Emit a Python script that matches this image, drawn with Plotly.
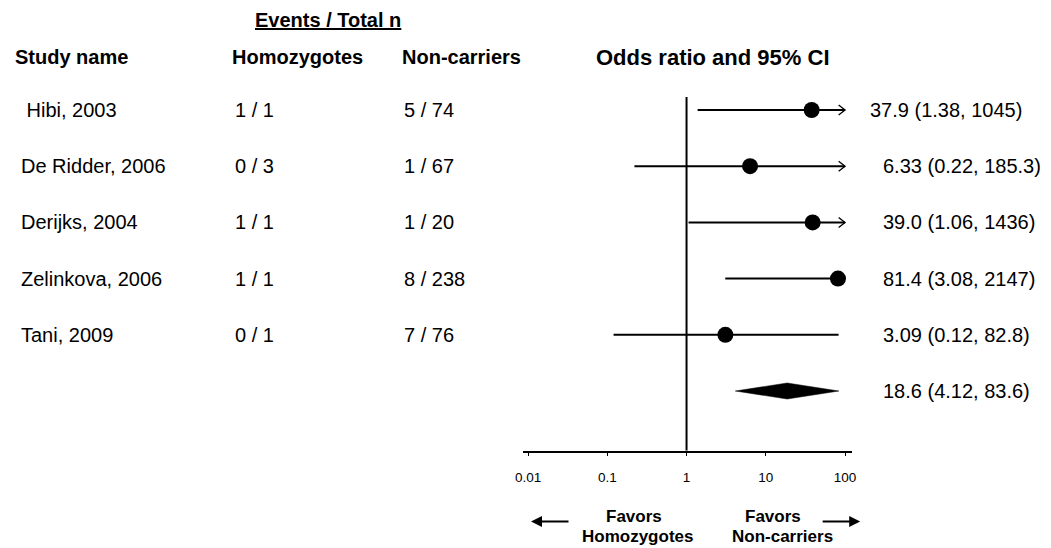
import math
import plotly.graph_objects as go

# ---------------- data ----------------
studies = ["\u00a0Hibi, 2003", "De Ridder, 2006", "Derijks, 2004", "Zelinkova, 2006", "Tani, 2009"]
homo_events = ["1 / 1", "0 / 3", "1 / 1", "1 / 1", "0 / 1"]
noncarrier_events = ["5 / 74", "1 / 67", "1 / 20", "8 / 238", "7 / 76"]
odds_ratio = [37.9, 6.33, 39.0, 81.4, 3.09]
ci_lower = [1.38, 0.22, 1.06, 3.08, 0.12]
ci_upper = [1045, 185.3, 1436, 2147, 82.8]
pooled_or = 18.6
pooled_lower = 4.12
pooled_upper = 83.6
tick_values = [0.01, 0.1, 1, 10, 100]
tick_labels = ["0.01", "0.1", "1", "10", "100"]
clip_min, clip_max = 0.01, 100

# ---------------- layout constants (page pixels) ----------------
PAGE_W, PAGE_H = 1051, 548
OFF = 8                      # default body margin of the html page
W, H = PAGE_W - OFF, PAGE_H - OFF
FONT = "Liberation Sans, Arial, sans-serif"
AX_LEFT, AX_RIGHT, AX_Y = 520.7, 854.0, 450.7
LOG_RANGE = [-2.066, 2.091]
PPD = (AX_RIGHT - AX_LEFT) / (LOG_RANGE[1] - LOG_RANGE[0])  # pixels per decade
ROW0, ROW_STEP = 110.0, 56.2
STAT_X = [870, 883, 883, 883, 883, 883]

rows_y = [ROW0 + i * ROW_STEP for i in range(len(studies))]
pooled_y = ROW0 + len(studies) * ROW_STEP

fig = go.Figure()

# reference line at OR = 1
fig.add_trace(go.Scatter(x=[1, 1], y=[rows_y[0] - 13, AX_Y], mode="lines",
                         line=dict(color="black", width=2), hoverinfo="skip"))

# confidence intervals
for y, lo, hi in zip(rows_y, ci_lower, ci_upper):
    lo_c = max(lo, clip_min)
    hi_c = min(hi, clip_max)
    fig.add_trace(go.Scatter(x=[lo_c, hi_c], y=[y, y], mode="lines",
                             line=dict(color="black", width=2), hoverinfo="skip"))
    if hi > clip_max:
        back = 10 ** (math.log10(clip_max) - 6.5 / PPD)
        fig.add_trace(go.Scatter(x=[back, clip_max, back], y=[y - 5, y, y + 5], mode="lines",
                                 line=dict(color="black", width=1.3), hoverinfo="skip"))
    if lo < clip_min:
        back = 10 ** (math.log10(clip_min) + 6.5 / PPD)
        fig.add_trace(go.Scatter(x=[back, clip_min, back], y=[y - 5, y, y + 5], mode="lines",
                                 line=dict(color="black", width=1.3), hoverinfo="skip"))

# point estimates
fig.add_trace(go.Scatter(x=odds_ratio, y=rows_y, mode="markers",
                         marker=dict(color="black", size=16, line=dict(width=0)),
                         hoverinfo="skip"))

# pooled diamond
fig.add_trace(go.Scatter(
    x=[pooled_lower, pooled_or, pooled_upper, pooled_or, pooled_lower],
    y=[pooled_y, pooled_y - 8, pooled_y, pooled_y + 8, pooled_y],
    mode="lines", fill="toself", fillcolor="black",
    line=dict(color="black", width=0.5), hoverinfo="skip"))

# ---------------- annotations ----------------
annotations = []


def px(x):
    return (x - OFF) / W


def py(y):
    return 1 - (y - OFF) / H


def ann(text, x, y, size=20, bold=False, xanchor="left"):
    if bold:
        text = "<b>" + text + "</b>"
    annotations.append(dict(text=text, x=px(x), y=py(y), xref="paper", yref="paper",
                            xanchor=xanchor, yanchor="middle", showarrow=False,
                            font=dict(family=FONT, size=size, color="black")))


ann("<u>Events / Total n</u>", 324, 20, bold=True, xanchor="center")
ann("Study name", 5, 57, bold=True)
ann("Homozygotes", 224, 57, bold=True)
ann("Non-carriers", 396, 57, bold=True)
ann("Odds ratio and 95% CI", 713, 57, size=22, bold=True, xanchor="center")

for i, y in enumerate(rows_y):
    ann(studies[i], 11, y)
    ann(homo_events[i], 228, y)
    ann(noncarrier_events[i], 398, y)
    ann(f"{odds_ratio[i]} ({ci_lower[i]}, {ci_upper[i]})", STAT_X[i], y)

ann(f"{pooled_or} ({pooled_lower}, {pooled_upper})", STAT_X[-1], pooled_y)

ann("Favors", 633, 517, size=17, bold=True, xanchor="center")
ann("Homozygotes", 637, 536, size=17, bold=True, xanchor="center")
ann("Favors", 774, 517, size=17, bold=True, xanchor="center")
ann("Non-carriers", 783, 536, size=17, bold=True, xanchor="center")

# direction arrows
for tip_x, tail_dx in [(529, 39), (862, -39)]:
    annotations.append(dict(text="", x=px(tip_x), y=py(521.5), xref="paper", yref="paper",
                            ax=tail_dx, ay=0, showarrow=True, arrowhead=2, arrowsize=1.1,
                            arrowwidth=2, arrowcolor="black", standoff=0))

fig.update_layout(
    width=W, height=H,
    margin=dict(l=0, r=0, t=0, b=0),
    paper_bgcolor="white", plot_bgcolor="white",
    showlegend=False,
    annotations=annotations,
    xaxis=dict(type="log", range=LOG_RANGE, domain=[px(AX_LEFT), px(AX_RIGHT)],
               showline=True, linecolor="black", linewidth=1.5,
               ticks="outside", ticklen=4, tickwidth=1.2, tickcolor="black",
               tickvals=tick_values, ticktext=tick_labels,
               tickfont=dict(family=FONT, size=13.5, color="black"),
               ticklabelstandoff=9,
               showgrid=False, zeroline=False, fixedrange=True),
    yaxis=dict(range=[AX_Y, OFF], domain=[py(AX_Y), 1], visible=False,
               showgrid=False, zeroline=False, fixedrange=True),
)

fig.write_html("out.html")
